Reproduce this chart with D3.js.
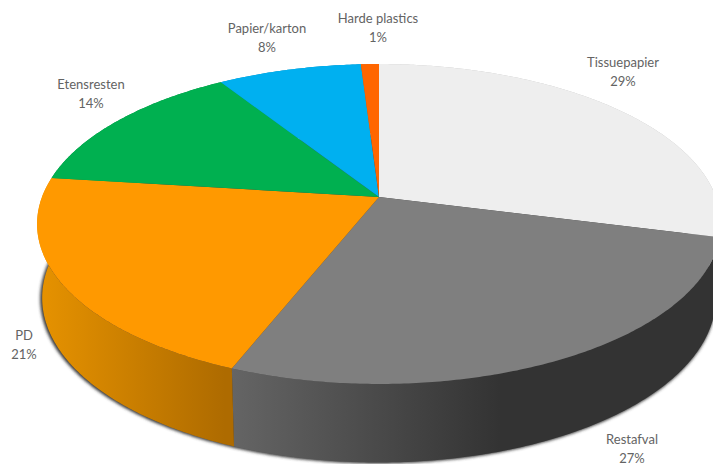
<!DOCTYPE html>
<html>
<head>
<meta charset="utf-8">
<script src="https://cdn.jsdelivr.net/npm/d3@7"></script>
<style>
html,body{margin:0;padding:0;background:#fff;overflow:hidden}
text{font-family:Lato,"Open Sans",sans-serif;font-size:13px;fill:#636363;text-anchor:middle}
</style>
</head>
<body>
<svg id="chart" width="713" height="464"></svg>
<script>
// Waste composition, percent per fraction, clockwise from twelve o'clock
const categories = ["Tissuepapier", "Restafval", "PD", "Etensresten", "Papier/karton", "Harde plastics"];
const shares = [29, 27, 21, 14, 8, 1];
const topColors = ["#EEEEEE", "#7F7F7F", "#FF9900", "#00B050", "#00B0F0", "#FF6600"];
const wallColors = [
  ["#bdbdbd", "#bdbdbd"],
  ["#666666", "#333333"],
  ["#e69200", "#ae6b00"],
  ["#008a3f", "#008a3f"],
  ["#008abd", "#008abd"],
  ["#cc5200", "#cc5200"]
];
const labelAnchors = [[623, 62], [632, 439], [24, 335], [91, 84], [267, 28], [378, 18]];

const svg = d3.select("#chart");
const width = 713, height = 464, lineGap = 19;

// Tilted-disc projection: the near rim is larger than the far rim
const tilt = 0.1688;
const topFace = {cx: 379, cy: 197, rx: 337, ry: 155.4};
const baseFace = {cx: 379, cy: 270, rx: 332, ry: 160};

function project(face, angle) {
  const X = Math.sin(angle), Y = -Math.cos(angle), w = 1 - tilt * Y;
  return [face.cx + face.rx * X / w, face.cy + face.ry * Y / w];
}
function rim(face, a0, a1) {
  const n = Math.max(2, Math.ceil((a1 - a0) / 0.01));
  return d3.range(n + 1).map(i => project(face, a0 + (a1 - a0) * i / n));
}

const arcs = d3.pie().sort(null).value(d => d)(shares);
const line = d3.line();

const defs = svg.append("defs");
defs.append("filter").attr("id", "soft")
  .attr("x", "-5%").attr("y", "-5%").attr("width", "110%").attr("height", "110%")
  .append("feGaussianBlur").attr("stdDeviation", 1.6);

const gradSpans = [[500, 720], [225, 500], [40, 225], [0, 1], [0, 1], [0, 1]];
gradSpans[1] = [225, 500];
arcs.forEach((d, i) => {
  const g = defs.append("linearGradient").attr("id", "wall" + i)
    .attr("gradientUnits", "userSpaceOnUse")
    .attr("x1", gradSpans[i][0]).attr("x2", gradSpans[i][1]).attr("y1", 0).attr("y2", 0);
  g.append("stop").attr("offset", 0).attr("stop-color", wallColors[i][0]);
  g.append("stop").attr("offset", 1).attr("stop-color", wallColors[i][1]);
});

// Soft shadow hugging the underside of the disc
svg.append("path")
  .attr("d", line(rim({...baseFace, rx: baseFace.rx + 1}, 0, 2 * Math.PI)) + "Z")
  .attr("transform", "translate(-1,1)")
  .attr("fill", "#3a3a3a")
  .attr("filter", "url(#soft)");

// Outer walls, then the top face over them
svg.append("g").selectAll("path").data(arcs).join("path")
  .attr("d", d => line(rim(topFace, d.startAngle, d.endAngle)
    .concat(rim(baseFace, d.startAngle, d.endAngle).reverse())) + "Z")
  .attr("fill", (d, i) => `url(#wall${i})`);

svg.append("g").selectAll("path").data(arcs).join("path")
  .attr("d", d => line([[topFace.cx, topFace.cy]].concat(rim(topFace, d.startAngle, d.endAngle))) + "Z")
  .attr("fill", (d, i) => topColors[i]);

// Two-line labels: category name over its share
const labels = svg.append("g").selectAll("g").data(categories).join("g")
  .attr("transform", (d, i) => `translate(${labelAnchors[i][0]},${labelAnchors[i][1]})`);
labels.append("text").attr("dy", 4.5).text(d => d);
labels.append("text").attr("dy", 4.5 + lineGap).text((d, i) => shares[i] + "%");
</script>
</body>
</html>
